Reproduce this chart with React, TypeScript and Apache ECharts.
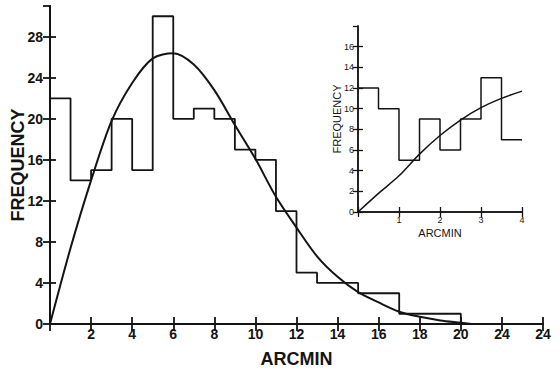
import React, { useEffect, useRef } from "react";
import * as echarts from "echarts";

// Main histogram: bins of width 1 arcmin starting at these edges
const binStarts = [0, 1, 2, 3, 4, 5, 6, 7, 8, 9, 10, 11, 12, 13, 14, 15, 16, 17, 18, 19];
const binCounts = [22, 14, 15, 20, 15, 30, 20, 21, 20, 17, 16, 11, 5, 4, 4, 3, 3, 1, 1, 1];
const binEnd = 20;

// Main fitted curve
const curveX = [0, 1, 2, 3, 4, 5, 6, 7, 8, 9, 10, 11, 12, 13, 14, 15, 16, 17, 18, 19, 20, 20.5];
const curveY = [0, 7.4, 14.0, 19.8, 23.5, 25.9, 26.4, 25.3, 22.8, 19.4, 16.1, 12.4, 9.4, 6.6, 4.6, 3.1, 2.1, 1.2, 0.7, 0.35, 0.12, 0];

// Main x tick labels (the reference prints "24" at 22)
const xTickLabels = ["", "2", "4", "6", "8", "10", "12", "14", "16", "18", "20", "24", "24"];

// Inset histogram: bins of width 0.5 arcmin
const insetStarts = [0, 0.5, 1, 1.5, 2, 2.5, 3, 3.5];
const insetCounts = [12, 10, 5, 9, 6, 9, 13, 7];
const insetEnd = 4;

// Inset curve
const insetCurveX = [0, 0.5, 1, 1.5, 2, 2.5, 3, 3.5, 4];
const insetCurveY = [0, 1.8, 3.5, 5.6, 7.4, 8.9, 10.1, 11.0, 11.7];

const insetXLabels = ["", "1", "2", "3", "4"];

const INK = "#141414";
const FONT = "Liberation Sans";

export default function App() {
  const ref = useRef<HTMLDivElement>(null);
  useEffect(() => {
    if (!ref.current) return;
    const chart = echarts.init(ref.current, null, { renderer: "svg" });

    const histMain: number[][] = binStarts.map((x, i) => [x, binCounts[i]]);
    histMain.push([binEnd, 0]);
    const curveMain = curveX.map((x, i) => [x, curveY[i]]);
    const histInset: number[][] = insetStarts.map((x, i) => [x, insetCounts[i]]);
    histInset.push([insetEnd, insetCounts[insetCounts.length - 1]]);
    const curveInset = insetCurveX.map((x, i) => [x, insetCurveY[i]]);

    const line = (w: number) => ({ show: true, lineStyle: { color: INK, width: w } });
    const tick = (len: number, w: number) => ({ show: true, inside: true, length: len, lineStyle: { color: INK, width: w } });

    chart.setOption({
      animation: false,
      backgroundColor: "#ffffff",
      grid: [
        { left: 50, top: 6, width: 493, height: 318, outerBoundsMode: "none", containLabel: false },
        { left: 358, top: 26, width: 164, height: 186, show: true, backgroundColor: "#ffffff", borderWidth: 0, outerBoundsMode: "none", containLabel: false },
      ],
      xAxis: [
        {
          gridIndex: 0, type: "value", min: 0, max: 24, interval: 2, position: "bottom",
          axisLine: line(2), axisTick: tick(7, 1.8), splitLine: { show: false },
          axisLabel: {
            color: INK, fontFamily: FONT, fontSize: 14, fontWeight: "bold", margin: 3,
            formatter: (v: number) => xTickLabels[Math.round(v / 2)] ?? "",
          },
          name: "ARCMIN", nameLocation: "middle", nameGap: 26, nameMoveOverlap: false,
          nameTextStyle: { color: INK, fontFamily: FONT, fontSize: 18, fontWeight: "bold" },
        },
        {
          gridIndex: 0, type: "value", min: 0, max: 24, interval: 2, position: "top",
          axisLine: line(2), axisTick: tick(7, 1.8), splitLine: { show: false },
          axisLabel: { show: false },
        },
        {
          gridIndex: 1, type: "value", min: 0, max: 4, interval: 1, position: "bottom",
          axisLine: line(1.5), axisTick: tick(5, 1.3), splitLine: { show: false },
          axisLabel: {
            color: INK, fontFamily: FONT, fontSize: 9, margin: 3,
            formatter: (v: number) => insetXLabels[Math.round(v)] ?? "",
          },
          name: "ARCMIN", nameLocation: "middle", nameGap: 15, nameMoveOverlap: false,
          nameTextStyle: { color: INK, fontFamily: FONT, fontSize: 11 },
        },
        {
          gridIndex: 1, type: "value", min: 0, max: 4, interval: 1, position: "top",
          axisLine: line(1.5), axisTick: tick(5, 1.3), splitLine: { show: false },
          axisLabel: { show: false },
        },
      ],
      yAxis: [
        {
          gridIndex: 0, type: "value", min: 0, max: 31, interval: 4, position: "left",
          axisLine: line(2), axisTick: tick(6, 1.8), splitLine: { show: false },
          axisLabel: {
            color: INK, fontFamily: FONT, fontSize: 14, fontWeight: "bold", margin: 7,
            showMaxLabel: false,
            formatter: (v: number) => (v % 4 === 0 ? String(v) : ""),
          },
          name: "FREQUENCY", nameLocation: "middle", nameGap: 23, nameMoveOverlap: false,
          nameTextStyle: { color: INK, fontFamily: FONT, fontSize: 18, fontWeight: "bold" },
        },
        {
          gridIndex: 0, type: "value", min: 0, max: 31, interval: 4, position: "right",
          axisLine: line(2), axisTick: tick(7, 1.8), splitLine: { show: false },
          axisLabel: { show: false },
        },
        {
          gridIndex: 1, type: "value", min: 0, max: 18, interval: 2, position: "left",
          axisLine: line(1.5), axisTick: tick(5, 1.3), splitLine: { show: false },
          axisLabel: {
            color: INK, fontFamily: FONT, fontSize: 9, margin: 4, showMaxLabel: false,
            formatter: (v: number) => (v < 18 ? String(v) : ""),
          },
          name: "FREQUENCY", nameLocation: "middle", nameGap: 16, nameMoveOverlap: false,
          nameTextStyle: { color: INK, fontFamily: FONT, fontSize: 11 },
        },
        {
          gridIndex: 1, type: "value", min: 0, max: 18, interval: 2, position: "right",
          axisLine: line(1.5), axisTick: tick(5, 1.3), splitLine: { show: false },
          axisLabel: { show: false },
        },
      ],
      series: [
        {
          type: "line", xAxisIndex: 0, yAxisIndex: 0, data: histMain, step: "end",
          symbol: "none", lineStyle: { color: INK, width: 1.8 }, z: 3,
        },
        {
          type: "line", xAxisIndex: 0, yAxisIndex: 0, data: curveMain, smooth: 0.3,
          symbol: "none", lineStyle: { color: INK, width: 2 }, z: 4,
        },
        {
          type: "line", xAxisIndex: 2, yAxisIndex: 2, data: histInset, step: "end",
          symbol: "none", lineStyle: { color: INK, width: 1.5 }, z: 3,
        },
        {
          type: "line", xAxisIndex: 2, yAxisIndex: 2, data: curveInset, smooth: 0.3,
          symbol: "none", lineStyle: { color: INK, width: 1.5 }, z: 4,
        },
      ],
    });
    return () => chart.dispose();
  }, []);
  return (
    <div
      ref={ref}
      style={{ position: "fixed", left: 0, top: 0, width: 560, height: 370, background: "#fff" }}
    />
  );
}
